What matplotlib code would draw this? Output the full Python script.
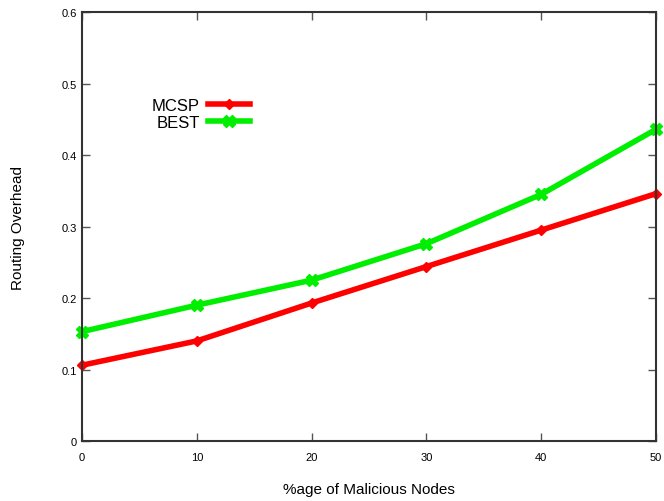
import matplotlib
matplotlib.use("Agg")
import matplotlib.pyplot as plt

# data
nodes = [0, 10, 20, 30, 40, 50]
mcsp = [0.106, 0.140, 0.193, 0.244, 0.295, 0.346]
best = [0.153, 0.190, 0.225, 0.276, 0.345, 0.436]

plt.rcParams['font.family'] = ['Liberation Sans', 'DejaVu Sans']

fig = plt.figure(figsize=(6.64, 5.02), dpi=100)
ax = fig.add_axes([0.1235, 0.1195, 0.8645, 0.8545])

ax.plot(nodes, mcsp, color='#ff0000', linewidth=4, marker='D', markersize=5, label='MCSP', clip_on=False)
ax.plot(nodes, best, color='#00ee00', linewidth=4, marker='X', markersize=8, label='BEST', clip_on=False)

ax.set_xlim(0, 50)
ax.set_ylim(0, 0.6)
ax.set_xticks(nodes)
ax.set_yticks([0, 0.1, 0.2, 0.3, 0.4, 0.5, 0.6])
ax.set_yticklabels(['0', '0.1', '0.2', '0.3', '0.4', '0.5', '0.6'])
ax.tick_params(direction='in', length=6, width=1, labelsize=8, top=True, right=True, color='#555555')
ax.tick_params(axis='x', pad=8)
for s in ax.spines.values():
    s.set_linewidth(1.5)
    s.set_color('#333333')

ax.set_xlabel('%age of Malicious Nodes', fontsize=11)
ax.set_ylabel('Routing Overhead', fontsize=11)
ax.xaxis.set_label_coords(0.5, -0.096)
ax.yaxis.set_label_coords(-0.099, 0.5)

ax.legend(loc='upper left', bbox_to_anchor=(0.11, 0.815), frameon=False, markerfirst=False,
          fontsize=12, handlelength=2.5, labelspacing=0.1, handletextpad=0.5,
          borderaxespad=0)

fig.savefig('out.png', dpi=100)
